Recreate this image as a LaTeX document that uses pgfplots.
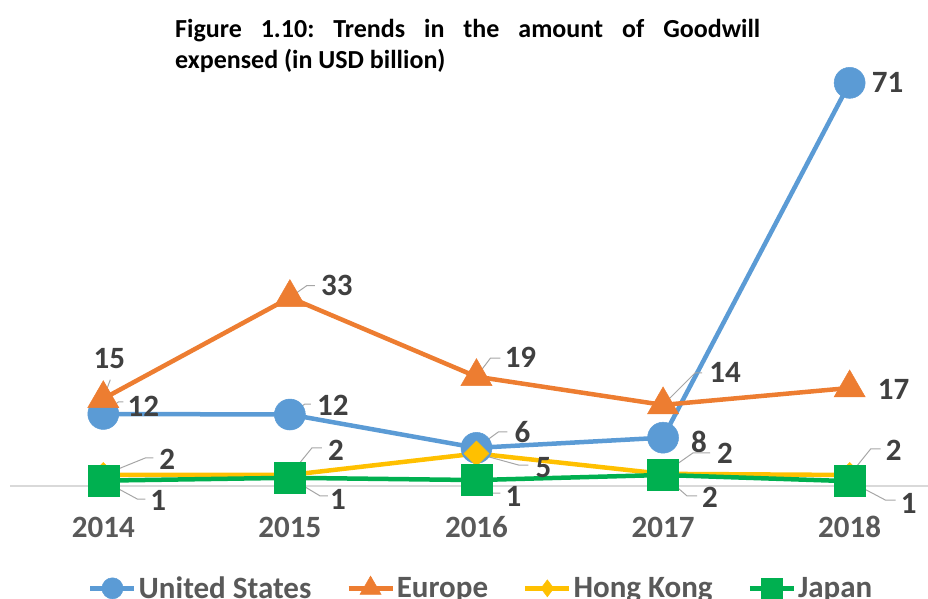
\documentclass[border=0pt]{standalone}
\usepackage{fontspec}
\setmainfont{Carlito}
\usepackage{pgfplots}
\pgfplotsset{compat=1.18}

\definecolor{cUS}{HTML}{5B9BD5}
\definecolor{cEU}{HTML}{ED7D31}
\definecolor{cHK}{HTML}{FFC000}
\definecolor{cJP}{HTML}{00B050}
\definecolor{cAx}{HTML}{D9D9D9}
\definecolor{cTick}{HTML}{595959}
\definecolor{cLab}{HTML}{404040}
\definecolor{cLead}{HTML}{A6A6A6}

\tikzset{
  dlab/.style={font=\bfseries\fontsize{31}{31}\selectfont, text=cLab, anchor=center, inner sep=0pt},
  leader/.style={draw=cLead, line width=1pt},
}
% label: x, y, dx, dy, text
\newcommand{\dlab}[5]{\node[dlab] at ([shift={(#3pt,#4pt)}]axis cs:#1,#2) {#5};}
% leader: x, y, elbow dx, elbow dy, horizontal length
\newcommand{\lead}[5]{\draw[leader] (axis cs:#1,#2) -- ([shift={(#3pt,#4pt)}]axis cs:#1,#2) -- ++(#5pt,0pt);}

\begin{document}
\frenchspacing
\begin{tikzpicture}
\useasboundingbox (0,0) rectangle (928pt,599pt);
\clip (0,0) rectangle (928pt,599pt);
\begin{axis}[
  at={(10pt,113pt)}, anchor=south west, scale only axis,
  width=918pt, height=454pt,
  xmin=-0.5, xmax=4.42, ymin=-0.35, ymax=80,
  clip=false,
  axis y line=none,
  axis x line*=bottom,
  x axis line style={-, draw=cAx, line width=1.3pt},
  xtick={0,1,2,3,4},
  xticklabels={2014,2015,2016,2017,2018},
  major tick length=0pt,
  xticklabel style={font=\bfseries\fontsize{31}{31}\selectfont, text=cTick, anchor=center, yshift=-41pt},
  ytick=\empty,
  legend columns=4,
  legend style={draw=none, fill=none, inner sep=0pt,
    at={(axis description cs:0.085,-0.2247)}, anchor=west,
    font=\bfseries\fontsize{31}{31}\selectfont, text=cTick,
    nodes={inner sep=0pt},
    /tikz/every odd column/.append style={column sep=2pt},
    /tikz/every even column/.append style={column sep=35pt}},
  legend image code/.code={\draw[mark repeat=2, mark phase=2, mark options={solid, line width=0.5pt, scale=0.68}] plot coordinates {(0pt,0pt) (22pt,0pt) (44pt,0pt)};},
]
\addplot[color=cUS, line width=4.5pt, mark=*, mark size=15.5pt, mark options={solid, line width=0.5pt}]
  coordinates {(0,12.4) (1,12.3) (2,6.4) (3,8.2) (4,71)};
\addlegendentry{United States}
\addplot[color=cEU, line width=4.5pt, mark=triangle*, mark size=18pt, mark options={solid, line width=0.5pt}]
  coordinates {(0,15.1) (1,33) (2,19) (3,14) (4,17)};
\addlegendentry{Europe}
\addplot[color=cHK, line width=4.5pt, mark=diamond*, mark size=12.5pt, mark options={solid, line width=0.5pt, xscale=1.33}]
  coordinates {(0,1.6) (1,1.6) (2,5.4) (3,1.8) (4,1.6)};
\addlegendentry{Hong Kong}
\addplot[color=cJP, line width=4.5pt, mark=square*, mark size=15.5pt, mark options={solid, line width=0.5pt}]
  coordinates {(0,0.6) (1,1.1) (2,0.7) (3,1.6) (4,0.5)};
\addlegendentry{Japan}

% United States
\lead{0}{12.4}{15}{12}{5}  \dlab{0}{12.4}{40}{8}{12}
\lead{1}{12.3}{15}{10.5}{6} \dlab{1}{12.3}{43}{9.5}{12}
\lead{2}{6.4}{22}{16}{9}   \dlab{2}{6.4}{46}{16}{6}
\dlab{3}{8.2}{36}{-4}{8}
\dlab{4}{71}{38}{0}{71}
% Europe
\lead{0}{15.1}{7}{19}{0}   \dlab{0}{15.1}{6}{40}{15}
\lead{1}{33}{17}{12}{8}    \dlab{1}{33}{47}{12.5}{33}
\lead{2}{19}{14}{18.6}{10} \dlab{2}{19}{44}{19.6}{19}
\lead{3}{14}{32}{32}{7}    \dlab{3}{14}{62}{32}{14}
\dlab{4}{17}{44}{-1}{17}
% Hong Kong
\lead{0}{1.6}{42}{17}{8}    \dlab{0}{1.6}{64}{16}{2}
\lead{1}{1.6}{22}{27}{10}   \dlab{1}{1.6}{46}{25}{2}
\lead{2}{5.4}{42}{-11.5}{10} \dlab{2}{5.4}{67}{-14.5}{5}
\lead{3}{1.8}{30}{21}{17}   \dlab{3}{1.8}{62}{21}{2}
\lead{4}{1.6}{21}{26}{10}   \dlab{4}{1.6}{44}{25}{2}
% Japan
\lead{0}{0.6}{34}{-18.4}{8} \dlab{0}{0.6}{55}{-19.4}{1}
\lead{1}{1.1}{30}{-18}{8}   \dlab{1}{1.1}{48}{-22}{1}
\lead{2}{0.7}{16}{-13}{8}   \dlab{2}{0.7}{37}{-16}{1}
\lead{3}{1.6}{24}{-21}{10}  \dlab{3}{1.6}{47}{-22}{2}
\lead{4}{0.5}{36}{-19}{10}  \dlab{4}{0.5}{59}{-22}{1}
\end{axis}
\node[anchor=north west, inner sep=0pt, text width=585pt, align=justify,
  font=\bfseries\fontsize{26}{31}\selectfont] at (175pt,580pt)
  {Figure 1.10: Trends in the amount of Goodwill\linebreak expensed (in USD billion)};
\end{tikzpicture}
\end{document}
